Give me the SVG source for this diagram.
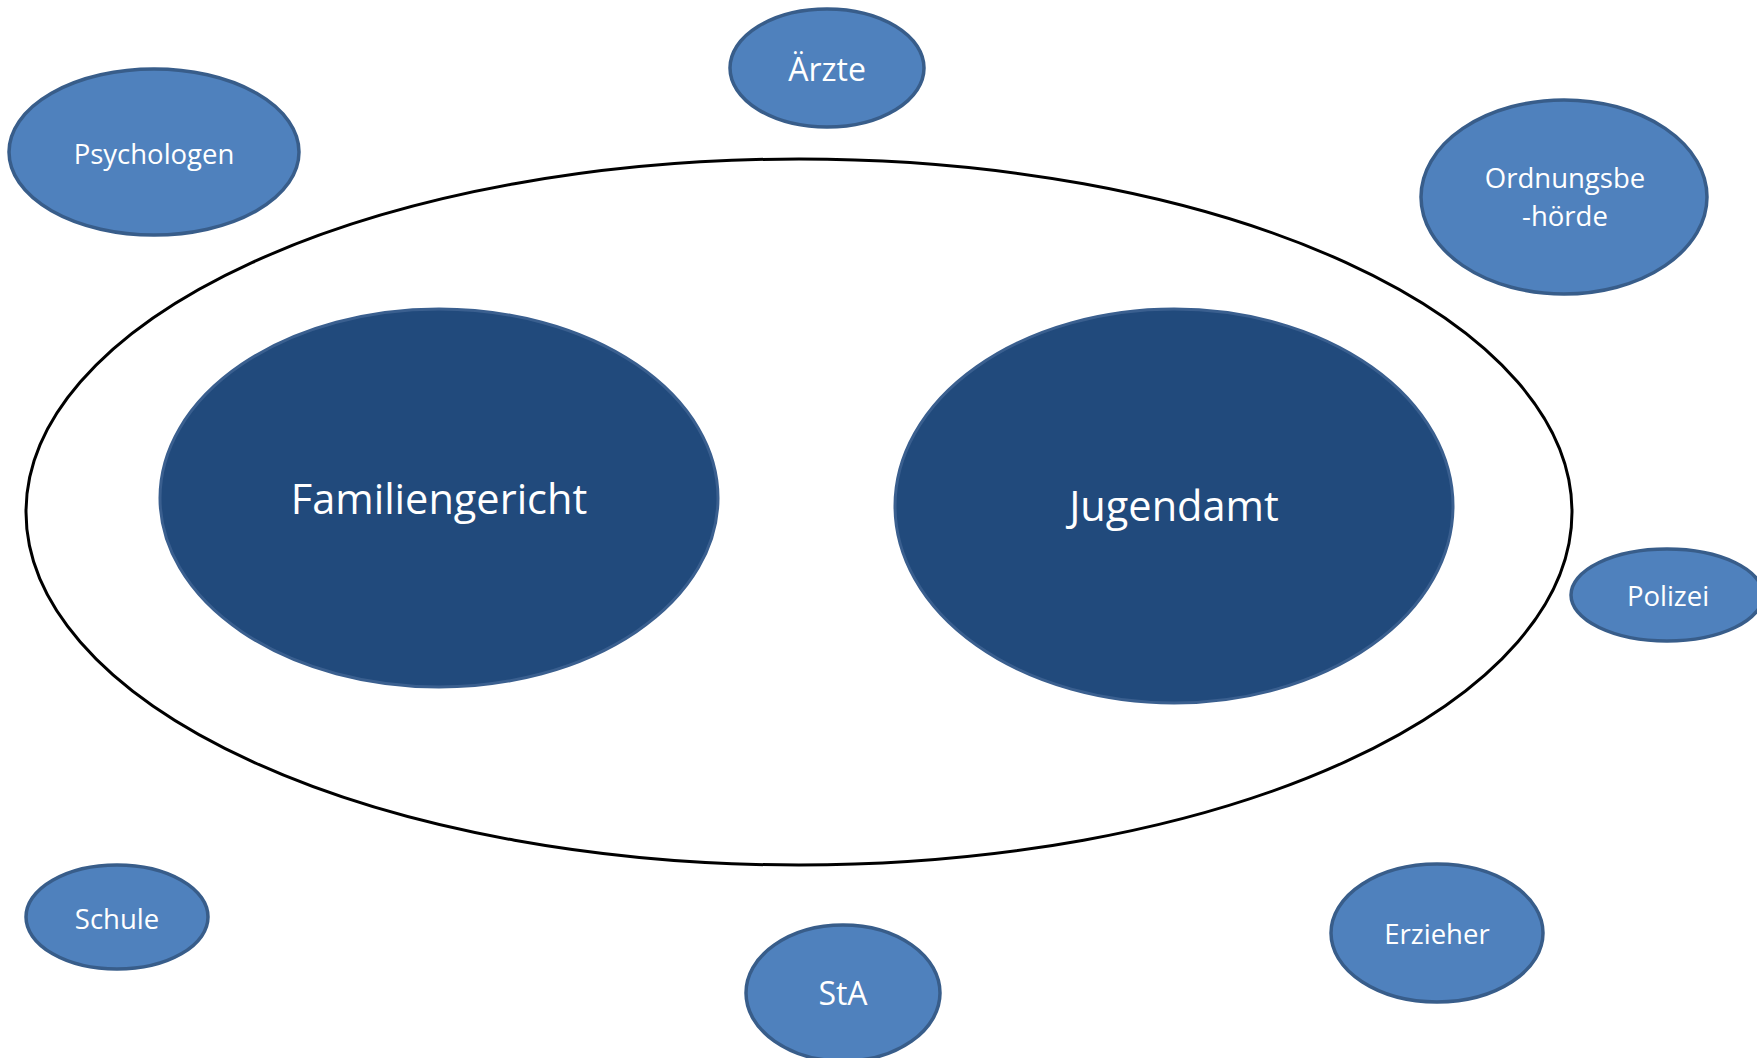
<svg xmlns="http://www.w3.org/2000/svg" width="1757" height="1058" viewBox="0 0 1757 1058">
<style>
.small{fill:#4F81BD;stroke:#385D8A;stroke-width:3.5}
.big{fill:#214A7C;stroke:#3A5F8F;stroke-width:3}
.outer{fill:#FFFFFF;stroke:#000000;stroke-width:3}
text{font-family:"Open Sans","Noto Sans","DejaVu Sans",sans-serif;fill:#FFFFFF;text-anchor:middle}
.s{font-size:27.5px}
.m{font-size:32px}
.l{font-size:41.5px}
</style>
<rect width="1757" height="1058" fill="#FFFFFF"/>
<g id="connectors"></g>
<g id="outer-frame"><ellipse class="outer" cx="799" cy="512" rx="773" ry="353"/></g>
<g id="familiengericht"><ellipse class="big" cx="439" cy="498" rx="279" ry="189"/><text class="l" x="439" y="514">Familiengericht</text></g>
<g id="jugendamt"><ellipse class="big" cx="1174" cy="506" rx="279" ry="197"/><text class="l" x="1174" y="521">Jugendamt</text></g>
<g id="psychologen"><ellipse class="small" cx="154" cy="152" rx="145" ry="83"/><text class="s" x="154" y="164">Psychologen</text></g>
<g id="aerzte"><ellipse class="small" cx="827" cy="68" rx="97" ry="59"/><text class="m" x="827" y="81">Ärzte</text></g>
<g id="ordnungsbehoerde"><ellipse class="small" cx="1564" cy="197" rx="143" ry="97"/><text class="s" x="1565" y="188">Ordnungsbe</text><text class="s" x="1565" y="226">-hörde</text></g>
<g id="polizei"><ellipse class="small" cx="1667" cy="595" rx="96" ry="46"/><text class="s" x="1668" y="606">Polizei</text></g>
<g id="schule"><ellipse class="small" cx="117" cy="917" rx="91" ry="52"/><text class="s" x="117" y="929">Schule</text></g>
<g id="sta"><ellipse class="small" cx="843" cy="993" rx="97" ry="68"/><text class="m" x="843" y="1005">StA</text></g>
<g id="erzieher"><ellipse class="small" cx="1437" cy="933" rx="106" ry="69"/><text class="s" x="1437" y="944">Erzieher</text></g>
</svg>
